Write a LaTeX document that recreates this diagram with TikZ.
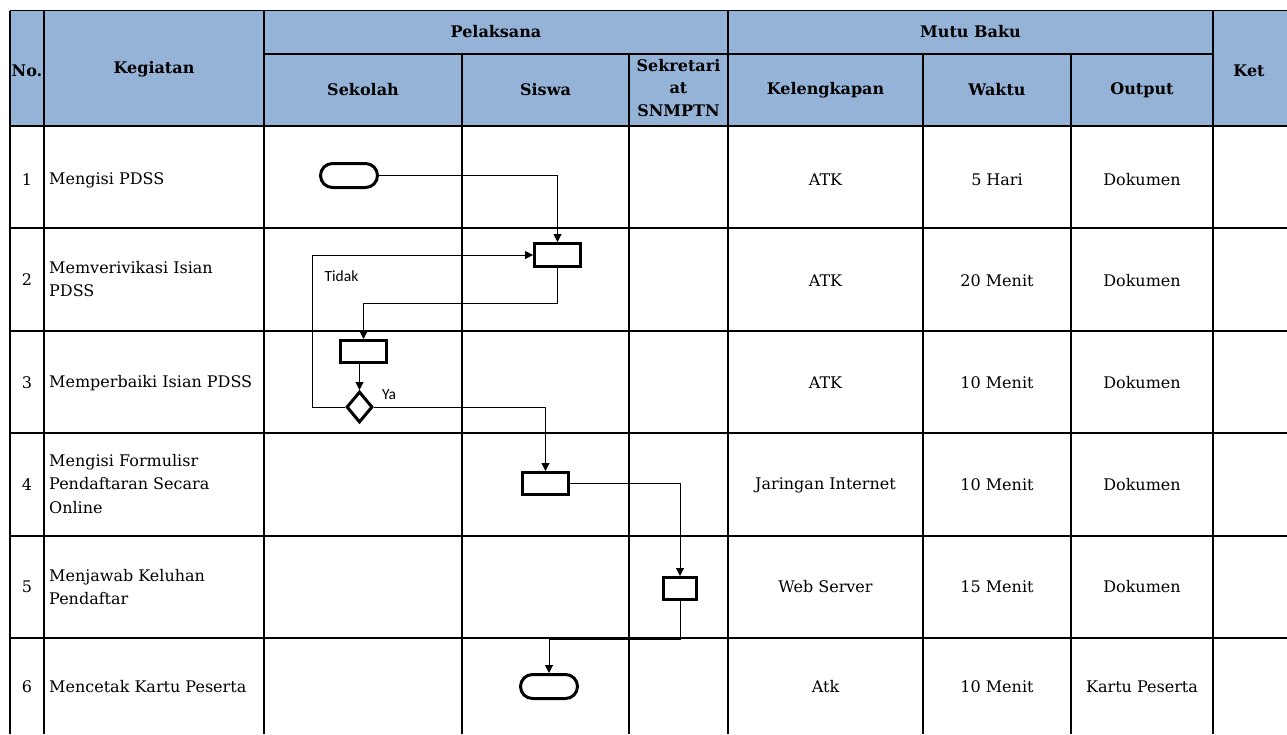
\documentclass[tikz,border=0pt]{standalone}
\usepackage{fontspec}
\setmainfont{DejaVu Serif}
\newfontfamily\lblfont{Carlito}
\usetikzlibrary{arrows.meta,shapes.geometric}
\definecolor{hdrblue}{RGB}{149,179,215}
\tikzset{
  gridline/.style={line width=1.3pt,black},
  outerline/.style={line width=1.9pt,black},
  procbox/.style={draw,line width=3pt,rectangle,inner sep=0pt},
  termbox/.style={draw,line width=3pt,rectangle,rounded corners=12pt,inner sep=0pt,minimum width=57pt,minimum height=24pt},
  decbox/.style={draw,line width=3pt,diamond,inner sep=0pt,minimum width=26pt,minimum height=31pt},
  conn/.style={line width=1pt,-{Triangle[length=8pt,width=8pt]}},
  hdr/.style={font=\fontsize{16}{22.5}\selectfont\bfseries,align=center,inner sep=0pt},
  body/.style={font=\fontsize{16}{23.5}\selectfont,align=center,inner sep=0pt},
  bodyl/.style={font=\fontsize{16}{23.5}\selectfont,align=left,inner sep=0pt,anchor=west},
  lbl/.style={font=\lblfont\fontsize{15.5}{18}\selectfont,inner sep=0pt}
}
\begin{document}
\begin{tikzpicture}[x=1pt,y=-1pt]
\useasboundingbox (0,0) rectangle (1287,734);
% header fill
\fill[hdrblue] (10,10.5) rectangle (1287,126);
% horizontal lines
\draw[outerline] (10,10.5) -- (1287,10.5);
\draw[gridline] (264,54) -- (1213,54);
\draw[outerline] (10,126) -- (1287,126);
\foreach \yy in {228,331,433,536,638} \draw[gridline] (10,\yy) -- (1287,\yy);
% vertical lines
\draw[outerline] (10,10.5) -- (10,734);
\foreach \xx in {44,264,728,1213} \draw[gridline] (\xx,10.5) -- (\xx,734);
\foreach \xx in {462,629,923,1071} \draw[gridline] (\xx,54) -- (\xx,734);
% header texts
\node[hdr] (hno) at (27,71) {No.};
\node[hdr] (hkeg) at (154,69) {Kegiatan};
\node[hdr] (hpel) at (496,32) {Pelaksana};
\node[hdr] (hmutu) at (970.5,32) {Mutu Baku};
\node[hdr] (hket) at (1249,71) {Ket};
\node[hdr] (hsek) at (363,90) {Sekolah};
\node[hdr] (hsis) at (545.5,90) {Siswa};
\node[hdr] (hsnm) at (678.5,88) {Sekretari\\at\\SNMPTN};
\node[hdr] (hkel) at (825.5,90) {Kelengkapan};
\node[hdr] (hwak) at (997,90) {Waktu};
\node[hdr] (hout) at (1142,90) {Output};
% body rows
\node[body] (n1) at (27,180) {1};
\node[body] (n2) at (27,280) {2};
\node[body] (n3) at (27,383) {3};
\node[body] (n4) at (27,485) {4};
\node[body] (n5) at (27,587) {5};
\node[body] (n6) at (27,687) {6};
\node[bodyl] (k1) at (49,180) {Mengisi PDSS};
\node[bodyl] (k2) at (49,279) {Memverivikasi Isian\\PDSS};
\node[bodyl] (k3) at (49,383) {Memperbaiki Isian PDSS};
\node[bodyl] (k4) at (49,484) {Mengisi Formulisr\\Pendaftaran Secara\\Online};
\node[bodyl] (k5) at (49,587) {Menjawab Keluhan\\Pendaftar};
\node[bodyl] (k6) at (49,687) {Mencetak Kartu Peserta};
% mutu baku
\node[body] (a1) at (825.5,180) {ATK};
\node[body] (a2) at (825.5,281) {ATK};
\node[body] (a3) at (825.5,383) {ATK};
\node[body] (a4) at (825.5,485) {Jaringan Internet};
\node[body] (a5) at (825.5,587) {Web Server};
\node[body] (a6) at (825.5,687) {Atk};
\node[body] (w1) at (997,180) {5 Hari};
\node[body] (w2) at (997,281) {20 Menit};
\node[body] (w3) at (997,383) {10 Menit};
\node[body] (w4) at (997,485) {10 Menit};
\node[body] (w5) at (997,587) {15 Menit};
\node[body] (w6) at (997,687) {10 Menit};
\node[body] (o1) at (1142,180) {Dokumen};
\node[body] (o2) at (1142,281) {Dokumen};
\node[body] (o3) at (1142,383) {Dokumen};
\node[body] (o4) at (1142,485) {Dokumen};
\node[body] (o5) at (1142,587) {Dokumen};
\node[body] (o6) at (1142,687) {Kartu Peserta};
% flowchart shapes
\node[termbox] (t1) at (349,175.5) {};
\node[procbox,minimum width=46pt,minimum height=23pt] (b2) at (557.5,255) {};
\node[procbox,minimum width=46pt,minimum height=22pt] (b3) at (363.5,351.5) {};
\node[decbox] (d3) at (359.5,407) {};
\node[procbox,minimum width=46pt,minimum height=22pt] (b4) at (545.5,483.5) {};
\node[procbox,minimum width=33pt,minimum height=22pt] (b5) at (680,588.5) {};
\node[termbox] (t6) at (549,686.5) {};
\coordinate (tl) at (312,407);
\coordinate (c23) at (557.5,303);
\coordinate (c56) at (680,639);
% connectors
\draw[conn] (t1.east) -| (b2.north);
\draw[conn] (d3.west) -- (tl) |- (b2.west);
\draw[conn] (b2.south) -- (c23) -| (b3.north);
\draw[conn] (d3.north |- b3.south) -- (d3.north);
\draw[conn] (d3.east) -| (b4.north);
\draw[conn] (b4.east) -| (b5.north);
\draw[conn] (b5.south) -- (c56) -| (t6.north);
% labels
\node[lbl] (ltid) at (341.5,276) {Tidak};
\node[lbl] (lya) at (389,395) {Ya};
\end{tikzpicture}
\end{document}
